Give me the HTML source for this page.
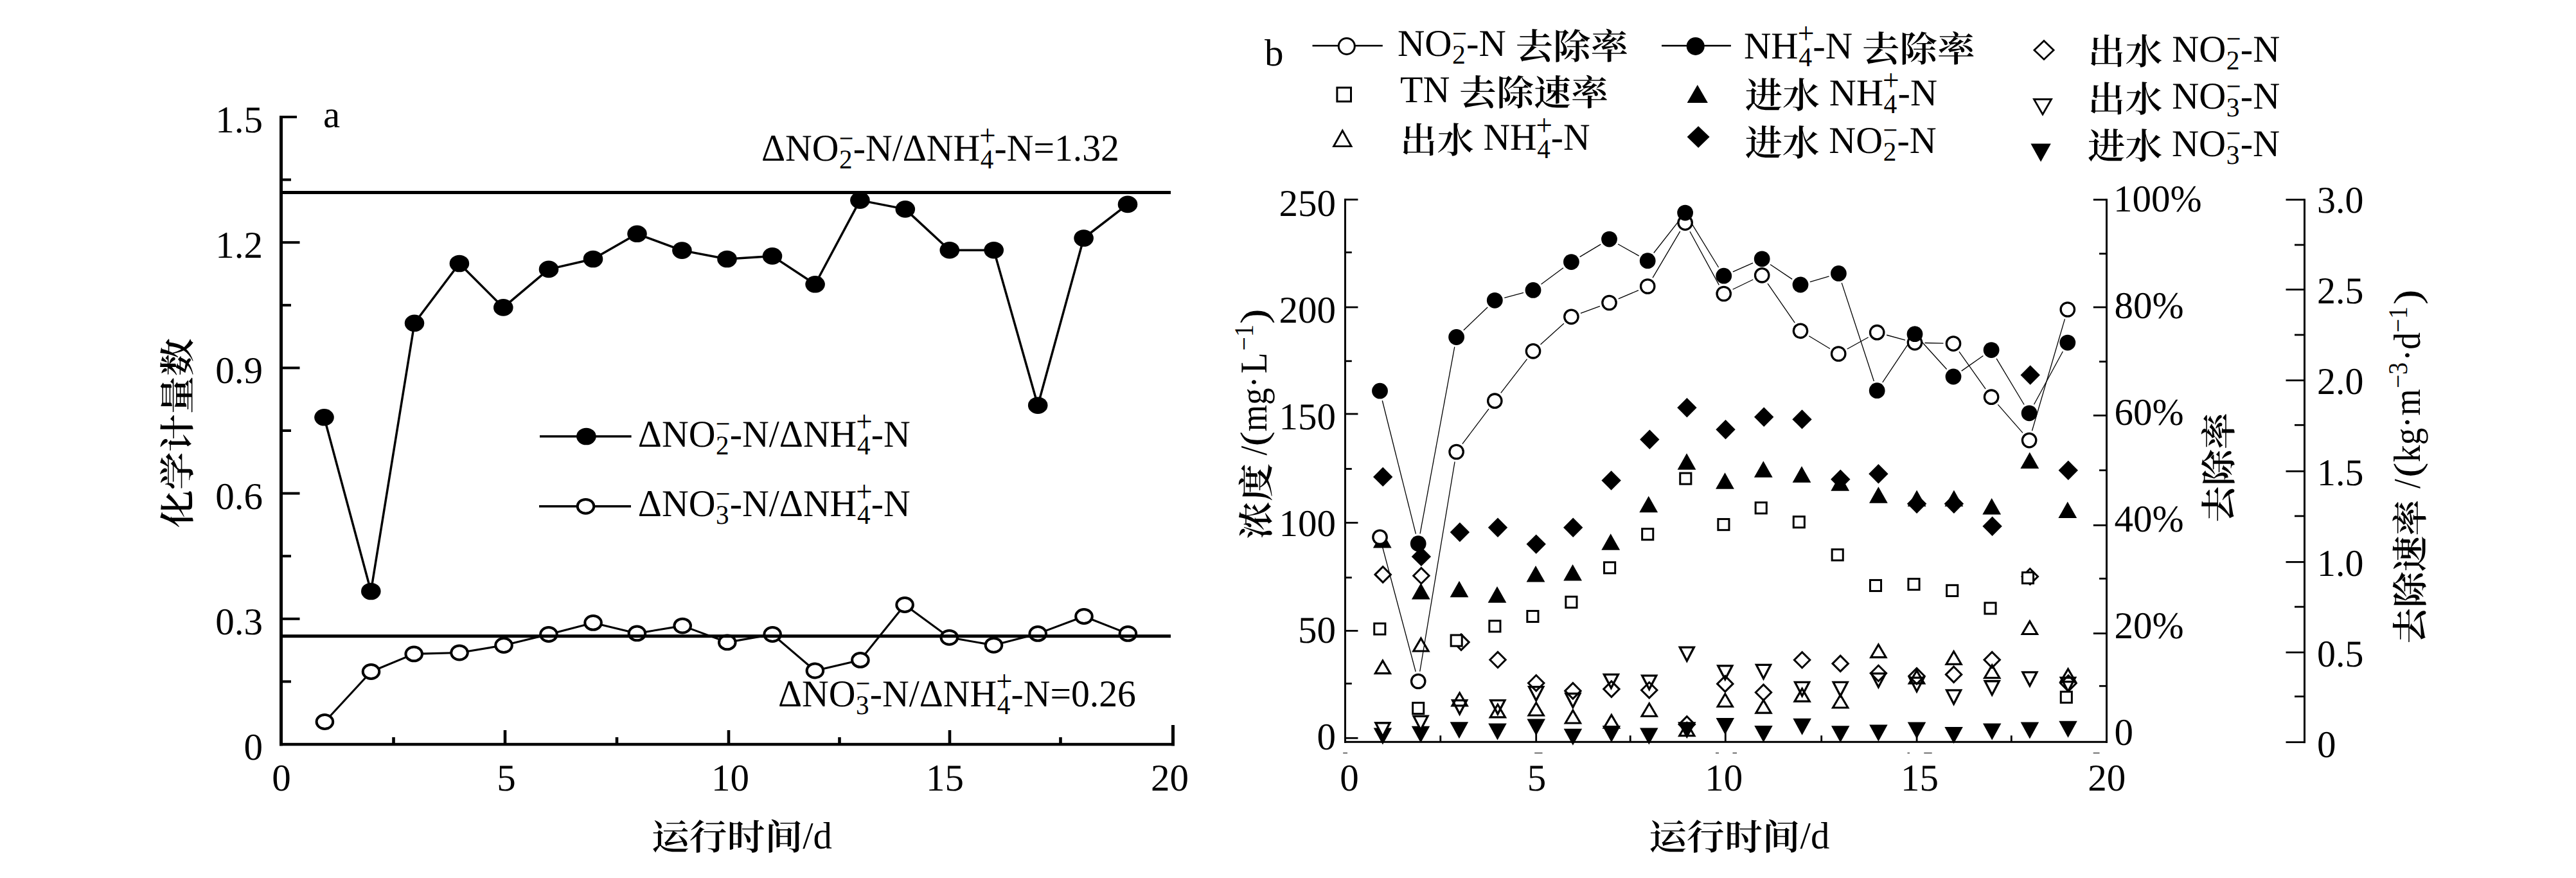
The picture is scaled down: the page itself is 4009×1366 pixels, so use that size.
<!DOCTYPE html>
<html lang="zh">
<head>
<meta charset="utf-8">
<title>化学计量数与去除率</title>
<style>
html,body{margin:0;padding:0;background:#fff}
body{width:4009px;height:1366px;overflow:hidden}
svg{display:block}
#labels{font-family:"Liberation Serif","Noto Serif CJK SC",serif;font-size:59px;fill:#000;font-kerning:none;white-space:pre;text-rendering:geometricPrecision}
text.c{font-family:"Noto Serif CJK SC","Liberation Serif",serif;font-weight:600}
</style>
</head>
<body>
<svg width="4009" height="1366" viewBox="0 0 4009 1366" shape-rendering="geometricPrecision">
<rect x="0" y="0" width="4009" height="1366" fill="#fff"/>
<g id="panel-a">
<polyline points="504.5,649.3 577.3,920 645,502.8 714.9,410 783.3,478.4 854,418.9 923,403 991.5,363.8 1061.4,389.6 1131.5,403 1202,398.4 1268.6,442.3 1338.4,311.6 1408.8,325.4 1477.8,389.2 1546.7,389.2 1615.2,630.7 1686.6,370.5 1755,317.9" fill="none" stroke="#000" stroke-width="3.5" stroke-linejoin="round"/>
<ellipse cx="504.5" cy="649.3" rx="15.3" ry="13.3" fill="#000"/>
<ellipse cx="577.3" cy="920" rx="15.3" ry="13.3" fill="#000"/>
<ellipse cx="645" cy="502.8" rx="15.3" ry="13.3" fill="#000"/>
<ellipse cx="714.9" cy="410" rx="15.3" ry="13.3" fill="#000"/>
<ellipse cx="783.3" cy="478.4" rx="15.3" ry="13.3" fill="#000"/>
<ellipse cx="854" cy="418.9" rx="15.3" ry="13.3" fill="#000"/>
<ellipse cx="923" cy="403" rx="15.3" ry="13.3" fill="#000"/>
<ellipse cx="991.5" cy="363.8" rx="15.3" ry="13.3" fill="#000"/>
<ellipse cx="1061.4" cy="389.6" rx="15.3" ry="13.3" fill="#000"/>
<ellipse cx="1131.5" cy="403" rx="15.3" ry="13.3" fill="#000"/>
<ellipse cx="1202" cy="398.4" rx="15.3" ry="13.3" fill="#000"/>
<ellipse cx="1268.6" cy="442.3" rx="15.3" ry="13.3" fill="#000"/>
<ellipse cx="1338.4" cy="311.6" rx="15.3" ry="13.3" fill="#000"/>
<ellipse cx="1408.8" cy="325.4" rx="15.3" ry="13.3" fill="#000"/>
<ellipse cx="1477.8" cy="389.2" rx="15.3" ry="13.3" fill="#000"/>
<ellipse cx="1546.7" cy="389.2" rx="15.3" ry="13.3" fill="#000"/>
<ellipse cx="1615.2" cy="630.7" rx="15.3" ry="13.3" fill="#000"/>
<ellipse cx="1686.6" cy="370.5" rx="15.3" ry="13.3" fill="#000"/>
<ellipse cx="1755" cy="317.9" rx="15.3" ry="13.3" fill="#000"/>
<polyline points="505.4,1123 577.5,1045 644.2,1017.4 715,1015.5 784,1004 853.9,987 923.1,968.9 991.4,985.4 1062.2,973.6 1131.8,999.4 1202.2,987 1268.4,1043.5 1338.9,1026.9 1408.1,941 1477.3,991.8 1546.5,1003.8 1615.2,985.9 1687,959 1755.4,985.9" fill="none" stroke="#000" stroke-width="3.1" stroke-linejoin="round"/>
<ellipse cx="505.4" cy="1123" rx="12.8" ry="10.9" fill="#fff" stroke="#000" stroke-width="4"/>
<ellipse cx="577.5" cy="1045" rx="12.8" ry="10.9" fill="#fff" stroke="#000" stroke-width="4"/>
<ellipse cx="644.2" cy="1017.4" rx="12.8" ry="10.9" fill="#fff" stroke="#000" stroke-width="4"/>
<ellipse cx="715" cy="1015.5" rx="12.8" ry="10.9" fill="#fff" stroke="#000" stroke-width="4"/>
<ellipse cx="784" cy="1004" rx="12.8" ry="10.9" fill="#fff" stroke="#000" stroke-width="4"/>
<ellipse cx="853.9" cy="987" rx="12.8" ry="10.9" fill="#fff" stroke="#000" stroke-width="4"/>
<ellipse cx="923.1" cy="968.9" rx="12.8" ry="10.9" fill="#fff" stroke="#000" stroke-width="4"/>
<ellipse cx="991.4" cy="985.4" rx="12.8" ry="10.9" fill="#fff" stroke="#000" stroke-width="4"/>
<ellipse cx="1062.2" cy="973.6" rx="12.8" ry="10.9" fill="#fff" stroke="#000" stroke-width="4"/>
<ellipse cx="1131.8" cy="999.4" rx="12.8" ry="10.9" fill="#fff" stroke="#000" stroke-width="4"/>
<ellipse cx="1202.2" cy="987" rx="12.8" ry="10.9" fill="#fff" stroke="#000" stroke-width="4"/>
<ellipse cx="1268.4" cy="1043.5" rx="12.8" ry="10.9" fill="#fff" stroke="#000" stroke-width="4"/>
<ellipse cx="1338.9" cy="1026.9" rx="12.8" ry="10.9" fill="#fff" stroke="#000" stroke-width="4"/>
<ellipse cx="1408.1" cy="941" rx="12.8" ry="10.9" fill="#fff" stroke="#000" stroke-width="4"/>
<ellipse cx="1477.3" cy="991.8" rx="12.8" ry="10.9" fill="#fff" stroke="#000" stroke-width="4"/>
<ellipse cx="1546.5" cy="1003.8" rx="12.8" ry="10.9" fill="#fff" stroke="#000" stroke-width="4"/>
<ellipse cx="1615.2" cy="985.9" rx="12.8" ry="10.9" fill="#fff" stroke="#000" stroke-width="4"/>
<ellipse cx="1687" cy="959" rx="12.8" ry="10.9" fill="#fff" stroke="#000" stroke-width="4"/>
<ellipse cx="1755.4" cy="985.9" rx="12.8" ry="10.9" fill="#fff" stroke="#000" stroke-width="4"/>
<rect x="437" y="297" width="1385" height="5" fill="#000"/>
<rect x="437" y="987.2" width="1385" height="5" fill="#000"/>
<rect x="435" y="180" width="5" height="980.3" fill="#000"/>
<rect x="435" y="1155.8" width="1393" height="4.5" fill="#000"/>
<rect x="1823" y="1128" width="5" height="32.3" fill="#000"/>
<rect x="439" y="180" width="23" height="4" fill="#000"/>
<rect x="439" y="375.2" width="27.5" height="4" fill="#000"/>
<rect x="439" y="570.4" width="27.5" height="4" fill="#000"/>
<rect x="439" y="765.6" width="27.5" height="4" fill="#000"/>
<rect x="439" y="960.8" width="27.5" height="4" fill="#000"/>
<rect x="439" y="277.6" width="14" height="4" fill="#000"/>
<rect x="439" y="472.8" width="14" height="4" fill="#000"/>
<rect x="439" y="668" width="14" height="4" fill="#000"/>
<rect x="439" y="863.2" width="14" height="4" fill="#000"/>
<rect x="439" y="1058.4" width="14" height="4" fill="#000"/>
<rect x="783.7" y="1136" width="4.6" height="21" fill="#000"/>
<rect x="1131.7" y="1136" width="4.6" height="21" fill="#000"/>
<rect x="1475.7" y="1136" width="4.6" height="21" fill="#000"/>
<rect x="610.2" y="1147" width="4.6" height="10" fill="#000"/>
<rect x="957.7" y="1147" width="4.6" height="10" fill="#000"/>
<rect x="1304.2" y="1147" width="4.6" height="10" fill="#000"/>
<rect x="1648.2" y="1147" width="4.6" height="10" fill="#000"/>
<rect x="840" y="677.2" width="142.6" height="3.5" fill="#000"/>
<ellipse cx="912.4" cy="679" rx="15.3" ry="13.3" fill="#000"/>
<rect x="839" y="786" width="143" height="3.5" fill="#000"/>
<ellipse cx="911.5" cy="787.8" rx="12.8" ry="10.9" fill="#fff" stroke="#000" stroke-width="4"/>
</g>
<g id="panel-b">
<polygon points="2137.65,1132.6 2166.15,1132.6 2151.9,1158.6" fill="#000"/>
<polygon points="2196.75,1129.8 2225.25,1129.8 2211,1155.8" fill="#000"/>
<polygon points="2256.65,1123.3 2285.15,1123.3 2270.9,1149.3" fill="#000"/>
<polygon points="2316.25,1125.6 2344.75,1125.6 2330.5,1151.6" fill="#000"/>
<polygon points="2376.45,1118.6 2404.95,1118.6 2390.7,1144.6" fill="#000"/>
<polygon points="2433.65,1133.8 2462.15,1133.8 2447.9,1159.8" fill="#000"/>
<polygon points="2493.65,1129.1 2522.15,1129.1 2507.9,1155.1" fill="#000"/>
<polygon points="2552.05,1132.6 2580.55,1132.6 2566.3,1158.6" fill="#000"/>
<polygon points="2611.05,1123.3 2639.55,1123.3 2625.3,1149.3" fill="#000"/>
<polygon points="2670.55,1117.1 2699.05,1117.1 2684.8,1143.1" fill="#000"/>
<polygon points="2730.25,1129 2758.75,1129 2744.5,1155" fill="#000"/>
<polygon points="2790.35,1117.8 2818.85,1117.8 2804.6,1143.8" fill="#000"/>
<polygon points="2849.95,1129.3 2878.45,1129.3 2864.2,1155.3" fill="#000"/>
<polygon points="2909.15,1127.5 2937.65,1127.5 2923.4,1153.5" fill="#000"/>
<polygon points="2968.75,1123.4 2997.25,1123.4 2983,1149.4" fill="#000"/>
<polygon points="3026.35,1131.1 3054.85,1131.1 3040.6,1157.1" fill="#000"/>
<polygon points="3085.95,1125.6 3114.45,1125.6 3100.2,1151.6" fill="#000"/>
<polygon points="3144.65,1123.6 3173.15,1123.6 3158.9,1149.6" fill="#000"/>
<polygon points="3204.25,1121.8 3232.75,1121.8 3218.5,1147.8" fill="#000"/>
<polygon points="2140.85,1124.74 2162.95,1124.74 2151.9,1145.94" fill="#fff" stroke="#000" stroke-width="3.3" stroke-linejoin="miter"/>
<polygon points="2199.95,1114.24 2222.05,1114.24 2211,1135.44" fill="#fff" stroke="#000" stroke-width="3.3" stroke-linejoin="miter"/>
<polygon points="2260.55,1089.64 2282.65,1089.64 2271.6,1110.84" fill="#fff" stroke="#000" stroke-width="3.3" stroke-linejoin="miter"/>
<polygon points="2319.85,1089.64 2341.95,1089.64 2330.9,1110.84" fill="#fff" stroke="#000" stroke-width="3.3" stroke-linejoin="miter"/>
<polygon points="2379.65,1068.64 2401.75,1068.64 2390.7,1089.84" fill="#fff" stroke="#000" stroke-width="3.3" stroke-linejoin="miter"/>
<polygon points="2436.85,1079.14 2458.95,1079.14 2447.9,1100.34" fill="#fff" stroke="#000" stroke-width="3.3" stroke-linejoin="miter"/>
<polygon points="2496.35,1049.34 2518.45,1049.34 2507.4,1070.54" fill="#fff" stroke="#000" stroke-width="3.3" stroke-linejoin="miter"/>
<polygon points="2555.65,1051.14 2577.75,1051.14 2566.7,1072.34" fill="#fff" stroke="#000" stroke-width="3.3" stroke-linejoin="miter"/>
<polygon points="2614.25,1007.04 2636.35,1007.04 2625.3,1028.24" fill="#fff" stroke="#000" stroke-width="3.3" stroke-linejoin="miter"/>
<polygon points="2673.75,1035.84 2695.85,1035.84 2684.8,1057.04" fill="#fff" stroke="#000" stroke-width="3.3" stroke-linejoin="miter"/>
<polygon points="2733.45,1034.44 2755.55,1034.44 2744.5,1055.64" fill="#fff" stroke="#000" stroke-width="3.3" stroke-linejoin="miter"/>
<polygon points="2793.55,1061.44 2815.65,1061.44 2804.6,1082.64" fill="#fff" stroke="#000" stroke-width="3.3" stroke-linejoin="miter"/>
<polygon points="2853.15,1061.44 2875.25,1061.44 2864.2,1082.64" fill="#fff" stroke="#000" stroke-width="3.3" stroke-linejoin="miter"/>
<polygon points="2912.35,1047.84 2934.45,1047.84 2923.4,1069.04" fill="#fff" stroke="#000" stroke-width="3.3" stroke-linejoin="miter"/>
<polygon points="2971.95,1054.44 2994.05,1054.44 2983,1075.64" fill="#fff" stroke="#000" stroke-width="3.3" stroke-linejoin="miter"/>
<polygon points="3029.55,1073.94 3051.65,1073.94 3040.6,1095.14" fill="#fff" stroke="#000" stroke-width="3.3" stroke-linejoin="miter"/>
<polygon points="3089.15,1059.74 3111.25,1059.74 3100.2,1080.94" fill="#fff" stroke="#000" stroke-width="3.3" stroke-linejoin="miter"/>
<polygon points="3147.85,1045.84 3169.95,1045.84 3158.9,1067.04" fill="#fff" stroke="#000" stroke-width="3.3" stroke-linejoin="miter"/>
<polygon points="3207.45,1054.44 3229.55,1054.44 3218.5,1075.64" fill="#fff" stroke="#000" stroke-width="3.3" stroke-linejoin="miter"/>
<polygon points="2140,893.9 2152.2,881.7 2164.4,893.9 2152.2,906.1" fill="none" stroke="#000" stroke-width="3" stroke-linejoin="miter"/>
<polygon points="2199.7,895.8 2211.9,883.6 2224.1,895.8 2211.9,908" fill="none" stroke="#000" stroke-width="3" stroke-linejoin="miter"/>
<polygon points="2261.8,999.1 2274,986.9 2286.2,999.1 2274,1011.3" fill="none" stroke="#000" stroke-width="3" stroke-linejoin="miter"/>
<polygon points="2318.8,1026.5 2331,1014.3 2343.2,1026.5 2331,1038.7" fill="none" stroke="#000" stroke-width="3" stroke-linejoin="miter"/>
<polygon points="2378.5,1062.7 2390.7,1050.5 2402.9,1062.7 2390.7,1074.9" fill="none" stroke="#000" stroke-width="3" stroke-linejoin="miter"/>
<polygon points="2435.7,1074.9 2447.9,1062.7 2460.1,1074.9 2447.9,1087.1" fill="none" stroke="#000" stroke-width="3" stroke-linejoin="miter"/>
<polygon points="2495.7,1072.1 2507.9,1059.9 2520.1,1072.1 2507.9,1084.3" fill="none" stroke="#000" stroke-width="3" stroke-linejoin="miter"/>
<polygon points="2554.5,1073.7 2566.7,1061.5 2578.9,1073.7 2566.7,1085.9" fill="none" stroke="#000" stroke-width="3" stroke-linejoin="miter"/>
<polygon points="2613.1,1126.9 2625.3,1114.7 2637.5,1126.9 2625.3,1139.1" fill="none" stroke="#000" stroke-width="3" stroke-linejoin="miter"/>
<polygon points="2672.6,1063.9 2684.8,1051.7 2697,1063.9 2684.8,1076.1" fill="none" stroke="#000" stroke-width="3" stroke-linejoin="miter"/>
<polygon points="2732.3,1077.3 2744.5,1065.1 2756.7,1077.3 2744.5,1089.5" fill="none" stroke="#000" stroke-width="3" stroke-linejoin="miter"/>
<polygon points="2792.4,1026.8 2804.6,1014.6 2816.8,1026.8 2804.6,1039" fill="none" stroke="#000" stroke-width="3" stroke-linejoin="miter"/>
<polygon points="2852,1032.4 2864.2,1020.2 2876.4,1032.4 2864.2,1044.6" fill="none" stroke="#000" stroke-width="3" stroke-linejoin="miter"/>
<polygon points="2911.2,1047.5 2923.4,1035.3 2935.6,1047.5 2923.4,1059.7" fill="none" stroke="#000" stroke-width="3" stroke-linejoin="miter"/>
<polygon points="2970.8,1051.9 2983,1039.7 2995.2,1051.9 2983,1064.1" fill="none" stroke="#000" stroke-width="3" stroke-linejoin="miter"/>
<polygon points="3028.4,1049.4 3040.6,1037.2 3052.8,1049.4 3040.6,1061.6" fill="none" stroke="#000" stroke-width="3" stroke-linejoin="miter"/>
<polygon points="3088,1026.6 3100.2,1014.4 3112.4,1026.6 3100.2,1038.8" fill="none" stroke="#000" stroke-width="3" stroke-linejoin="miter"/>
<polygon points="3147.1,897 3159.3,884.8 3171.5,897 3159.3,909.2" fill="none" stroke="#000" stroke-width="3" stroke-linejoin="miter"/>
<polygon points="3206.8,1063.1 3219,1050.9 3231.2,1063.1 3219,1075.3" fill="none" stroke="#000" stroke-width="3" stroke-linejoin="miter"/>
<polygon points="2140.25,1047.65 2163.55,1047.65 2151.9,1027.85" fill="none" stroke="#000" stroke-width="3.1" stroke-linejoin="miter"/>
<polygon points="2199.75,1012.95 2223.05,1012.95 2211.4,993.15" fill="none" stroke="#000" stroke-width="3.1" stroke-linejoin="miter"/>
<polygon points="2259.95,1097.85 2283.25,1097.85 2271.6,1078.05" fill="none" stroke="#000" stroke-width="3.1" stroke-linejoin="miter"/>
<polygon points="2319.25,1115.85 2342.55,1115.85 2330.9,1096.05" fill="none" stroke="#000" stroke-width="3.1" stroke-linejoin="miter"/>
<polygon points="2379.05,1113.05 2402.35,1113.05 2390.7,1093.25" fill="none" stroke="#000" stroke-width="3.1" stroke-linejoin="miter"/>
<polygon points="2436.25,1124.95 2459.55,1124.95 2447.9,1105.15" fill="none" stroke="#000" stroke-width="3.1" stroke-linejoin="miter"/>
<polygon points="2496.25,1132.15 2519.55,1132.15 2507.9,1112.35" fill="none" stroke="#000" stroke-width="3.1" stroke-linejoin="miter"/>
<polygon points="2555.05,1114.25 2578.35,1114.25 2566.7,1094.45" fill="none" stroke="#000" stroke-width="3.1" stroke-linejoin="miter"/>
<polygon points="2613.65,1144.65 2636.95,1144.65 2625.3,1124.85" fill="none" stroke="#000" stroke-width="3.1" stroke-linejoin="miter"/>
<polygon points="2673.15,1099.25 2696.45,1099.25 2684.8,1079.45" fill="none" stroke="#000" stroke-width="3.1" stroke-linejoin="miter"/>
<polygon points="2732.85,1109.15 2756.15,1109.15 2744.5,1089.35" fill="none" stroke="#000" stroke-width="3.1" stroke-linejoin="miter"/>
<polygon points="2792.95,1091.15 2816.25,1091.15 2804.6,1071.35" fill="none" stroke="#000" stroke-width="3.1" stroke-linejoin="miter"/>
<polygon points="2852.55,1101.05 2875.85,1101.05 2864.2,1081.25" fill="none" stroke="#000" stroke-width="3.1" stroke-linejoin="miter"/>
<polygon points="2911.75,1022.65 2935.05,1022.65 2923.4,1002.85" fill="none" stroke="#000" stroke-width="3.1" stroke-linejoin="miter"/>
<polygon points="2971.35,1063.15 2994.65,1063.15 2983,1043.35" fill="none" stroke="#000" stroke-width="3.1" stroke-linejoin="miter"/>
<polygon points="3028.95,1033.35 3052.25,1033.35 3040.6,1013.55" fill="none" stroke="#000" stroke-width="3.1" stroke-linejoin="miter"/>
<polygon points="3088.55,1054.65 3111.85,1054.65 3100.2,1034.85" fill="none" stroke="#000" stroke-width="3.1" stroke-linejoin="miter"/>
<polygon points="3147.25,986.45 3170.55,986.45 3158.9,966.65" fill="none" stroke="#000" stroke-width="3.1" stroke-linejoin="miter"/>
<polygon points="3206.85,1060.65 3230.15,1060.65 3218.5,1040.85" fill="none" stroke="#000" stroke-width="3.1" stroke-linejoin="miter"/>
<polygon points="2137,741.9 2152.2,726.7 2167.4,741.9 2152.2,757.1" fill="#000"/>
<polygon points="2196.7,865.9 2211.9,850.7 2227.1,865.9 2211.9,881.1" fill="#000"/>
<polygon points="2256.7,828 2271.9,812.8 2287.1,828 2271.9,843.2" fill="#000"/>
<polygon points="2315.8,820.7 2331,805.5 2346.2,820.7 2331,835.9" fill="#000"/>
<polygon points="2375.5,846.6 2390.7,831.4 2405.9,846.6 2390.7,861.8" fill="#000"/>
<polygon points="2433,820.7 2448.2,805.5 2463.4,820.7 2448.2,835.9" fill="#000"/>
<polygon points="2492.4,747.5 2507.6,732.3 2522.8,747.5 2507.6,762.7" fill="#000"/>
<polygon points="2552.1,683.8 2567.3,668.6 2582.5,683.8 2567.3,699" fill="#000"/>
<polygon points="2610.2,634.2 2625.4,619 2640.6,634.2 2625.4,649.4" fill="#000"/>
<polygon points="2670.3,668.3 2685.5,653.1 2700.7,668.3 2685.5,683.5" fill="#000"/>
<polygon points="2730,648.7 2745.2,633.5 2760.4,648.7 2745.2,663.9" fill="#000"/>
<polygon points="2789.3,652.4 2804.5,637.2 2819.7,652.4 2804.5,667.6" fill="#000"/>
<polygon points="2849.1,745.8 2864.3,730.6 2879.5,745.8 2864.3,761" fill="#000"/>
<polygon points="2908.2,737.3 2923.4,722.1 2938.6,737.3 2923.4,752.5" fill="#000"/>
<polygon points="2967.9,783.7 2983.1,768.5 2998.3,783.7 2983.1,798.9" fill="#000"/>
<polygon points="3025.7,783.7 3040.9,768.5 3056.1,783.7 3040.9,798.9" fill="#000"/>
<polygon points="3085.4,818.8 3100.6,803.6 3115.8,818.8 3100.6,834" fill="#000"/>
<polygon points="3144.5,583.5 3159.7,568.3 3174.9,583.5 3159.7,598.7" fill="#000"/>
<polygon points="3203.6,731.7 3218.8,716.5 3234,731.7 3218.8,746.9" fill="#000"/>
<polygon points="2136.9,852.45 2165.7,852.45 2151.3,826.95" fill="#000"/>
<polygon points="2196.9,932.45 2225.7,932.45 2211.3,906.95" fill="#000"/>
<polygon points="2256.6,929.35 2285.4,929.35 2271,903.85" fill="#000"/>
<polygon points="2315.6,937.75 2344.4,937.75 2330,912.25" fill="#000"/>
<polygon points="2375.6,905.45 2404.4,905.45 2390,879.95" fill="#000"/>
<polygon points="2433.2,903.55 2462,903.55 2447.6,878.05" fill="#000"/>
<polygon points="2492.3,855.65 2521.1,855.65 2506.7,830.15" fill="#000"/>
<polygon points="2551.3,797.25 2580.1,797.25 2565.7,771.75" fill="#000"/>
<polygon points="2610.6,730.65 2639.4,730.65 2625,705.15" fill="#000"/>
<polygon points="2670.1,760.75 2698.9,760.75 2684.5,735.25" fill="#000"/>
<polygon points="2729.9,742.85 2758.7,742.85 2744.3,717.35" fill="#000"/>
<polygon points="2789.6,750.75 2818.4,750.75 2804,725.25" fill="#000"/>
<polygon points="2849.3,763.75 2878.1,763.75 2863.7,738.25" fill="#000"/>
<polygon points="2909,782.75 2937.8,782.75 2923.4,757.25" fill="#000"/>
<polygon points="2968.7,788.05 2997.5,788.05 2983.1,762.55" fill="#000"/>
<polygon points="3026.5,788.05 3055.3,788.05 3040.9,762.55" fill="#000"/>
<polygon points="3085.3,800.45 3114.1,800.45 3099.7,774.95" fill="#000"/>
<polygon points="3144.4,728.95 3173.2,728.95 3158.8,703.45" fill="#000"/>
<polygon points="3203.4,806.05 3232.2,806.05 3217.8,780.55" fill="#000"/>
<rect x="2138.75" y="969.95" width="17.1" height="17.1" fill="#fff" stroke="#000" stroke-width="3"/>
<rect x="2198.65" y="1093.35" width="17.1" height="17.1" fill="#fff" stroke="#000" stroke-width="3"/>
<rect x="2258.15" y="988.05" width="17.1" height="17.1" fill="#fff" stroke="#000" stroke-width="3"/>
<rect x="2317.85" y="965.75" width="17.1" height="17.1" fill="#fff" stroke="#000" stroke-width="3"/>
<rect x="2376.85" y="950.45" width="17.1" height="17.1" fill="#fff" stroke="#000" stroke-width="3"/>
<rect x="2436.85" y="928.25" width="17.1" height="17.1" fill="#fff" stroke="#000" stroke-width="3"/>
<rect x="2496.55" y="874.75" width="17.1" height="17.1" fill="#fff" stroke="#000" stroke-width="3"/>
<rect x="2555.65" y="822.65" width="17.1" height="17.1" fill="#fff" stroke="#000" stroke-width="3"/>
<rect x="2614.75" y="736.05" width="17.1" height="17.1" fill="#fff" stroke="#000" stroke-width="3"/>
<rect x="2673.85" y="807.55" width="17.1" height="17.1" fill="#fff" stroke="#000" stroke-width="3"/>
<rect x="2732.15" y="781.75" width="17.1" height="17.1" fill="#fff" stroke="#000" stroke-width="3"/>
<rect x="2791.25" y="803.65" width="17.1" height="17.1" fill="#fff" stroke="#000" stroke-width="3"/>
<rect x="2851.15" y="854.75" width="17.1" height="17.1" fill="#fff" stroke="#000" stroke-width="3"/>
<rect x="2910.45" y="902.45" width="17.1" height="17.1" fill="#fff" stroke="#000" stroke-width="3"/>
<rect x="2969.95" y="900.45" width="17.1" height="17.1" fill="#fff" stroke="#000" stroke-width="3"/>
<rect x="3029.65" y="910.35" width="17.1" height="17.1" fill="#fff" stroke="#000" stroke-width="3"/>
<rect x="3088.95" y="937.85" width="17.1" height="17.1" fill="#fff" stroke="#000" stroke-width="3"/>
<rect x="3147.45" y="890.55" width="17.1" height="17.1" fill="#fff" stroke="#000" stroke-width="3"/>
<rect x="3207.25" y="1076.15" width="17.1" height="17.1" fill="#fff" stroke="#000" stroke-width="3"/>
<line x1="2151.49" y1="850.78" x2="2203.21" y2="1045.02" stroke="#000" stroke-width="1.3"/>
<line x1="2209.74" y1="1044.71" x2="2264.06" y2="718.29" stroke="#000" stroke-width="1.3"/>
<line x1="2275.92" y1="690.62" x2="2316.98" y2="636.08" stroke="#000" stroke-width="1.3"/>
<line x1="2335.77" y1="611.43" x2="2376.53" y2="558.57" stroke="#000" stroke-width="1.3"/>
<line x1="2397.52" y1="535.93" x2="2433.88" y2="503.17" stroke="#000" stroke-width="1.3"/>
<line x1="2459.94" y1="487.44" x2="2489.96" y2="476.36" stroke="#000" stroke-width="1.3"/>
<line x1="2518.75" y1="464.91" x2="2549.95" y2="451.59" stroke="#000" stroke-width="1.3"/>
<line x1="2572.08" y1="432.15" x2="2614.72" y2="359.95" stroke="#000" stroke-width="1.3"/>
<line x1="2630.01" y1="360.21" x2="2675.29" y2="443.39" stroke="#000" stroke-width="1.3"/>
<line x1="2696.66" y1="450.27" x2="2728.24" y2="435.03" stroke="#000" stroke-width="1.3"/>
<line x1="2751.01" y1="441.05" x2="2793.19" y2="502.05" stroke="#000" stroke-width="1.3"/>
<line x1="2815.27" y1="522.8" x2="2847.93" y2="542.5" stroke="#000" stroke-width="1.3"/>
<line x1="2874.75" y1="542.98" x2="2907.65" y2="524.72" stroke="#000" stroke-width="1.3"/>
<line x1="2936.16" y1="521.25" x2="2965.04" y2="529.05" stroke="#000" stroke-width="1.3"/>
<line x1="2995.5" y1="533.49" x2="3024.5" y2="534.21" stroke="#000" stroke-width="1.3"/>
<line x1="3048.98" y1="547.23" x2="3090.12" y2="605.07" stroke="#000" stroke-width="1.3"/>
<line x1="3109.31" y1="629.36" x2="3147.89" y2="673.44" stroke="#000" stroke-width="1.3"/>
<line x1="3162.46" y1="670.23" x2="3213.44" y2="496.37" stroke="#000" stroke-width="1.3"/>
<line x1="2151.28" y1="623.23" x2="2203.42" y2="830.67" stroke="#000" stroke-width="1.3"/>
<line x1="2210.02" y1="830.46" x2="2263.78" y2="539.74" stroke="#000" stroke-width="1.3"/>
<line x1="2277.79" y1="513.78" x2="2315.11" y2="478.02" stroke="#000" stroke-width="1.3"/>
<line x1="2341.28" y1="463.31" x2="2371.02" y2="455.39" stroke="#000" stroke-width="1.3"/>
<line x1="2398.48" y1="442.2" x2="2432.92" y2="416.8" stroke="#000" stroke-width="1.3"/>
<line x1="2458.69" y1="399.62" x2="2491.21" y2="380.08" stroke="#000" stroke-width="1.3"/>
<line x1="2518.01" y1="379.7" x2="2550.69" y2="398.1" stroke="#000" stroke-width="1.3"/>
<line x1="2573.75" y1="393.5" x2="2613.05" y2="343.3" stroke="#000" stroke-width="1.3"/>
<line x1="2630.7" y1="344.32" x2="2674.6" y2="415.98" stroke="#000" stroke-width="1.3"/>
<line x1="2696.87" y1="422.91" x2="2728.03" y2="409.09" stroke="#000" stroke-width="1.3"/>
<line x1="2755.06" y1="411.45" x2="2789.14" y2="434.35" stroke="#000" stroke-width="1.3"/>
<line x1="2816.86" y1="438.6" x2="2846.54" y2="429.8" stroke="#000" stroke-width="1.3"/>
<line x1="2866.23" y1="440.13" x2="2916.37" y2="592.97" stroke="#000" stroke-width="1.3"/>
<line x1="2929.81" y1="594.81" x2="2971.39" y2="532.59" stroke="#000" stroke-width="1.3"/>
<line x1="2990.4" y1="531.19" x2="3029.6" y2="574.51" stroke="#000" stroke-width="1.3"/>
<line x1="3052.7" y1="577.11" x2="3086.4" y2="553.49" stroke="#000" stroke-width="1.3"/>
<line x1="3107.08" y1="557.89" x2="3150.12" y2="629.51" stroke="#000" stroke-width="1.3"/>
<line x1="3165.51" y1="629.19" x2="3210.39" y2="546.71" stroke="#000" stroke-width="1.3"/>
<ellipse cx="2147.5" cy="835.8" rx="10.7" ry="10.7" fill="#fff" stroke="#000" stroke-width="3.3"/>
<ellipse cx="2207.2" cy="1060" rx="10.7" ry="10.7" fill="#fff" stroke="#000" stroke-width="3.3"/>
<ellipse cx="2266.6" cy="703" rx="10.7" ry="10.7" fill="#fff" stroke="#000" stroke-width="3.3"/>
<ellipse cx="2326.3" cy="623.7" rx="10.7" ry="10.7" fill="#fff" stroke="#000" stroke-width="3.3"/>
<ellipse cx="2386" cy="546.3" rx="10.7" ry="10.7" fill="#fff" stroke="#000" stroke-width="3.3"/>
<ellipse cx="2445.4" cy="492.8" rx="10.7" ry="10.7" fill="#fff" stroke="#000" stroke-width="3.3"/>
<ellipse cx="2504.5" cy="471" rx="10.7" ry="10.7" fill="#fff" stroke="#000" stroke-width="3.3"/>
<ellipse cx="2564.2" cy="445.5" rx="10.7" ry="10.7" fill="#fff" stroke="#000" stroke-width="3.3"/>
<ellipse cx="2622.6" cy="346.6" rx="10.7" ry="10.7" fill="#fff" stroke="#000" stroke-width="3.3"/>
<ellipse cx="2682.7" cy="457" rx="10.7" ry="10.7" fill="#fff" stroke="#000" stroke-width="3.3"/>
<ellipse cx="2742.2" cy="428.3" rx="10.7" ry="10.7" fill="#fff" stroke="#000" stroke-width="3.3"/>
<ellipse cx="2802" cy="514.8" rx="10.7" ry="10.7" fill="#fff" stroke="#000" stroke-width="3.3"/>
<ellipse cx="2861.2" cy="550.5" rx="10.7" ry="10.7" fill="#fff" stroke="#000" stroke-width="3.3"/>
<ellipse cx="2921.2" cy="517.2" rx="10.7" ry="10.7" fill="#fff" stroke="#000" stroke-width="3.3"/>
<ellipse cx="2980" cy="533.1" rx="10.7" ry="10.7" fill="#fff" stroke="#000" stroke-width="3.3"/>
<ellipse cx="3040" cy="534.6" rx="10.7" ry="10.7" fill="#fff" stroke="#000" stroke-width="3.3"/>
<ellipse cx="3099.1" cy="617.7" rx="10.7" ry="10.7" fill="#fff" stroke="#000" stroke-width="3.3"/>
<ellipse cx="3158.1" cy="685.1" rx="10.7" ry="10.7" fill="#fff" stroke="#000" stroke-width="3.3"/>
<ellipse cx="3217.8" cy="481.5" rx="10.7" ry="10.7" fill="#fff" stroke="#000" stroke-width="3.3"/>
<ellipse cx="2147.5" cy="608.2" rx="12.4" ry="12.4" fill="#000"/>
<ellipse cx="2207.2" cy="845.7" rx="12.4" ry="12.4" fill="#000"/>
<ellipse cx="2266.6" cy="524.5" rx="12.4" ry="12.4" fill="#000"/>
<ellipse cx="2326.3" cy="467.3" rx="12.4" ry="12.4" fill="#000"/>
<ellipse cx="2386" cy="451.4" rx="12.4" ry="12.4" fill="#000"/>
<ellipse cx="2445.4" cy="407.6" rx="12.4" ry="12.4" fill="#000"/>
<ellipse cx="2504.5" cy="372.1" rx="12.4" ry="12.4" fill="#000"/>
<ellipse cx="2564.2" cy="405.7" rx="12.4" ry="12.4" fill="#000"/>
<ellipse cx="2622.6" cy="331.1" rx="12.4" ry="12.4" fill="#000"/>
<ellipse cx="2682.7" cy="429.2" rx="12.4" ry="12.4" fill="#000"/>
<ellipse cx="2742.2" cy="402.8" rx="12.4" ry="12.4" fill="#000"/>
<ellipse cx="2802" cy="443" rx="12.4" ry="12.4" fill="#000"/>
<ellipse cx="2861.4" cy="425.4" rx="12.4" ry="12.4" fill="#000"/>
<ellipse cx="2921.2" cy="607.7" rx="12.4" ry="12.4" fill="#000"/>
<ellipse cx="2980" cy="519.7" rx="12.4" ry="12.4" fill="#000"/>
<ellipse cx="3040" cy="586" rx="12.4" ry="12.4" fill="#000"/>
<ellipse cx="3099.1" cy="544.6" rx="12.4" ry="12.4" fill="#000"/>
<ellipse cx="3158.1" cy="642.8" rx="12.4" ry="12.4" fill="#000"/>
<ellipse cx="3217.8" cy="533.1" rx="12.4" ry="12.4" fill="#000"/>
<rect x="2092" y="309" width="3" height="846.8" fill="#000"/>
<rect x="2092" y="1152.8" width="1188" height="3" fill="#000"/>
<rect x="3277" y="309.3" width="3" height="846.5" fill="#000"/>
<rect x="3585" y="309.3" width="3" height="846.9" fill="#000"/>
<rect x="2094" y="309.1" width="19.4" height="2.8" fill="#000"/>
<rect x="2094" y="476.6" width="19.4" height="2.8" fill="#000"/>
<rect x="2094" y="642.6" width="19.4" height="2.8" fill="#000"/>
<rect x="2094" y="811.9" width="19.4" height="2.8" fill="#000"/>
<rect x="2094" y="980" width="19.4" height="2.8" fill="#000"/>
<rect x="2094" y="1146.9" width="19.4" height="2.8" fill="#000"/>
<rect x="2094" y="391.3" width="9.8" height="2.8" fill="#000"/>
<rect x="2094" y="560.4" width="9.8" height="2.8" fill="#000"/>
<rect x="2094" y="728.1" width="9.8" height="2.8" fill="#000"/>
<rect x="2094" y="897.2" width="9.8" height="2.8" fill="#000"/>
<rect x="2094" y="1062.1" width="9.8" height="2.8" fill="#000"/>
<rect x="3257.8" y="309.3" width="20.2" height="2.8" fill="#000"/>
<rect x="3257.8" y="476.6" width="20.2" height="2.8" fill="#000"/>
<rect x="3257.8" y="645" width="20.2" height="2.8" fill="#000"/>
<rect x="3257.8" y="815.8" width="20.2" height="2.8" fill="#000"/>
<rect x="3257.8" y="984.1" width="20.2" height="2.8" fill="#000"/>
<rect x="3267" y="393.3" width="11" height="2.8" fill="#000"/>
<rect x="3267" y="561.2" width="11" height="2.8" fill="#000"/>
<rect x="3267" y="730.3" width="11" height="2.8" fill="#000"/>
<rect x="3267" y="898.8" width="11" height="2.8" fill="#000"/>
<rect x="3267" y="1065.9" width="11" height="2.8" fill="#000"/>
<rect x="3557.5" y="309.3" width="28.5" height="2.8" fill="#000"/>
<rect x="3557.5" y="449.1" width="28.5" height="2.8" fill="#000"/>
<rect x="3557.5" y="590.4" width="28.5" height="2.8" fill="#000"/>
<rect x="3557.5" y="731.8" width="28.5" height="2.8" fill="#000"/>
<rect x="3557.5" y="873" width="28.5" height="2.8" fill="#000"/>
<rect x="3557.5" y="1013.6" width="28.5" height="2.8" fill="#000"/>
<rect x="3557.5" y="1153.3" width="28.5" height="2.8" fill="#000"/>
<rect x="3571" y="379.6" width="15" height="2.8" fill="#000"/>
<rect x="3571" y="519.6" width="15" height="2.8" fill="#000"/>
<rect x="3571" y="659.9" width="15" height="2.8" fill="#000"/>
<rect x="3571" y="801.5" width="15" height="2.8" fill="#000"/>
<rect x="3571" y="942.7" width="15" height="2.8" fill="#000"/>
<rect x="3571" y="1082.2" width="15" height="2.8" fill="#000"/>
<rect x="2389.3" y="1134" width="2.8" height="20" fill="#000"/>
<rect x="2683.9" y="1134" width="2.8" height="20" fill="#000"/>
<rect x="2981.7" y="1134" width="2.8" height="20" fill="#000"/>
<rect x="2240.4" y="1144.3" width="2.8" height="9.7" fill="#000"/>
<rect x="2535.8" y="1144.3" width="2.8" height="9.7" fill="#000"/>
<rect x="2833.3" y="1144.3" width="2.8" height="9.7" fill="#000"/>
<rect x="3128.9" y="1144.3" width="2.8" height="9.7" fill="#000"/>
<rect x="2090.2" y="1170.8" width="6.8" height="1.5" fill="#444"/>
<rect x="2388.2" y="1170.8" width="12.3" height="1.5" fill="#444"/>
<rect x="2670" y="1170.8" width="5" height="1.5" fill="#444"/>
<rect x="2696.5" y="1170.8" width="6.5" height="1.5" fill="#444"/>
<rect x="2968.5" y="1170.8" width="3.5" height="1.5" fill="#444"/>
<rect x="2994.3" y="1170.8" width="12.4" height="1.5" fill="#444"/>
<rect x="3257.7" y="1170.8" width="9.8" height="1.5" fill="#444"/>
<rect x="2042.5" y="69.8" width="109.3" height="2.6" fill="#000"/>
<ellipse cx="2095.8" cy="71.9" rx="12.5" ry="12.5" fill="#fff" stroke="#000" stroke-width="3"/>
<rect x="2080.9" y="136.3" width="21.6" height="21.6" fill="#fff" stroke="#000" stroke-width="3"/>
<polygon points="2075.55,227.7 2103.05,227.7 2089.3,203.2" fill="none" stroke="#000" stroke-width="2.8" stroke-linejoin="miter"/>
<rect x="2586" y="69.8" width="107.9" height="2.6" fill="#000"/>
<ellipse cx="2638.7" cy="71.9" rx="14" ry="14" fill="#000"/>
<polygon points="2625.6,159.9 2657.9,159.9 2641.75,132.1" fill="#000"/>
<polygon points="2625.6,213.1 2643.1,196.3 2660.6,213.1 2643.1,229.9" fill="#000"/>
<polygon points="3165.9,77.9 3181,63.4 3196.1,77.9 3181,92.4" fill="none" stroke="#000" stroke-width="2.8" stroke-linejoin="miter"/>
<polygon points="3165.5,154.5 3192.5,154.5 3179,177.9" fill="none" stroke="#000" stroke-width="2.8" stroke-linejoin="miter"/>
<polygon points="3160.4,223.6 3191.8,223.6 3176.1,251.8" fill="#000"/>
</g>
<g id="labels">
<g transform="translate(409,205.5)"><text x="-73.75" y="0">1.5</text></g>
<g transform="translate(409,400.8)"><text x="-73.75" y="0">1.2</text></g>
<g transform="translate(409,596.4)"><text x="-73.75" y="0">0.9</text></g>
<g transform="translate(409,791.8)"><text x="-73.75" y="0">0.6</text></g>
<g transform="translate(409,987)"><text x="-73.75" y="0">0.3</text></g>
<g transform="translate(409,1182)"><text x="-29.5" y="0">0</text></g>
<g transform="translate(438,1229.5)"><text x="-14.75" y="0">0</text></g>
<g transform="translate(788,1229.5)"><text x="-14.75" y="0">5</text></g>
<g transform="translate(1136.5,1229.5)"><text x="-29.5" y="0">10</text></g>
<g transform="translate(1470.5,1229.5)"><text x="-29.5" y="0">15</text></g>
<g transform="translate(1820.5,1229.5)"><text x="-29.5" y="0">20</text></g>
<g transform="translate(503,197.5)"><text x="0" y="0">a</text></g>
<g transform="translate(1185,250) scale(0.9783,1.0000)"><text x="0" y="0">ΔNO</text><text x="123.76" y="12.3" font-size="42">2</text><text x="123.56" y="-21.5" font-size="41">−</text><text x="145.96" y="0">-N/ΔNH</text><text x="348.36" y="12.3" font-size="42">4</text><text x="346.76" y="-23.6" font-size="46">+</text><text x="370.56" y="0">-N=1.32</text></g>
<g transform="translate(1211,1098.6) scale(0.9783,1.0000)"><text x="0" y="0">ΔNO</text><text x="123.76" y="12.3" font-size="42">3</text><text x="123.56" y="-21.5" font-size="41">−</text><text x="145.96" y="0">-N/ΔNH</text><text x="348.36" y="12.3" font-size="42">4</text><text x="346.76" y="-23.6" font-size="46">+</text><text x="370.56" y="0">-N=0.26</text></g>
<g transform="translate(992.8,694.5) scale(0.9792,1.0000)"><text x="0" y="0">ΔNO</text><text x="123.76" y="12.3" font-size="42">2</text><text x="123.56" y="-21.5" font-size="41">−</text><text x="145.96" y="0">-N/ΔNH</text><text x="348.36" y="12.3" font-size="42">4</text><text x="346.76" y="-23.6" font-size="46">+</text><text x="370.56" y="0">-N</text></g>
<g transform="translate(992.8,803.1) scale(0.9792,1.0000)"><text x="0" y="0">ΔNO</text><text x="123.76" y="12.3" font-size="42">3</text><text x="123.56" y="-21.5" font-size="41">−</text><text x="145.96" y="0">-N/ΔNH</text><text x="348.36" y="12.3" font-size="42">4</text><text x="346.76" y="-23.6" font-size="46">+</text><text x="370.56" y="0">-N</text></g>
<g transform="translate(1014,1319.6) scale(0.9968,1.0000)"><text class="c" transform="translate(0,2.5) scale(1,0.94)">运行时间</text><text x="236" y="0">/d</text></g>
<g transform="translate(291.3,673.7) rotate(-90)"><text class="c" transform="translate(-147.5,4.5) scale(1,0.94)">化学计量数</text></g>
<g transform="translate(1968,102)"><text x="0" y="0">b</text></g>
<g transform="translate(2175,87) scale(0.9917,1.0000)"><text x="0" y="0">NO</text><text x="85.82" y="12.3" font-size="42">2</text><text x="85.62" y="-21.5" font-size="41">−</text><text x="108.02" y="0">-N</text><text x="170.27" y="0"> </text><text class="c" transform="translate(185.02,4.5) scale(1,0.94)">去除率</text></g>
<g transform="translate(2179,159.4) scale(0.9836,1.0000)"><text x="0" y="0">TN </text><text class="c" transform="translate(93.4,4.5) scale(1,0.94)">去除速率</text></g>
<g transform="translate(2179,233.2) scale(0.9752,1.0000)"><text class="c" transform="translate(0,4.5) scale(1,0.94)">出水</text><text x="118" y="0"> </text><text x="132.75" y="0">NH</text><text x="218.57" y="12.3" font-size="42">4</text><text x="216.97" y="-23.6" font-size="46">+</text><text x="240.77" y="0">-N</text></g>
<g transform="translate(2714,91) scale(0.9930,1.0000)"><text x="0" y="0">NH</text><text x="85.82" y="12.3" font-size="42">4</text><text x="84.22" y="-23.6" font-size="46">+</text><text x="108.02" y="0">-N</text><text x="170.27" y="0"> </text><text class="c" transform="translate(185.02,4.5) scale(1,0.94)">去除率</text></g>
<g transform="translate(2715.7,163.5) scale(0.9877,1.0000)"><text class="c" transform="translate(0,4.5) scale(1,0.94)">进水</text><text x="118" y="0"> </text><text x="132.75" y="0">NH</text><text x="218.57" y="12.3" font-size="42">4</text><text x="216.97" y="-23.6" font-size="46">+</text><text x="240.77" y="0">-N</text></g>
<g transform="translate(2715.7,237.8) scale(0.9834,1.0000)"><text class="c" transform="translate(0,4.5) scale(1,0.94)">进水</text><text x="118" y="0"> </text><text x="132.75" y="0">NO</text><text x="218.57" y="12.3" font-size="42">2</text><text x="218.37" y="-21.5" font-size="41">−</text><text x="240.77" y="0">-N</text></g>
<g transform="translate(3249.2,95.7) scale(0.9867,1.0000)"><text class="c" transform="translate(0,4.5) scale(1,0.94)">出水</text><text x="118" y="0"> </text><text x="132.75" y="0">NO</text><text x="218.57" y="12.3" font-size="42">2</text><text x="218.37" y="-21.5" font-size="41">−</text><text x="240.77" y="0">-N</text></g>
<g transform="translate(3249.2,169) scale(0.9867,1.0000)"><text class="c" transform="translate(0,4.5) scale(1,0.94)">出水</text><text x="118" y="0"> </text><text x="132.75" y="0">NO</text><text x="218.57" y="12.3" font-size="42">3</text><text x="218.37" y="-21.5" font-size="41">−</text><text x="240.77" y="0">-N</text></g>
<g transform="translate(3248.9,242.8) scale(0.9874,1.0000)"><text class="c" transform="translate(0,4.5) scale(1,0.94)">进水</text><text x="118" y="0"> </text><text x="132.75" y="0">NO</text><text x="218.57" y="12.3" font-size="42">3</text><text x="218.37" y="-21.5" font-size="41">−</text><text x="240.77" y="0">-N</text></g>
<g transform="translate(2079,335.5)"><text x="-88.5" y="0">250</text></g>
<g transform="translate(2079,501.5)"><text x="-88.5" y="0">200</text></g>
<g transform="translate(2079,667.5)"><text x="-88.5" y="0">150</text></g>
<g transform="translate(2079,833.6)"><text x="-88.5" y="0">100</text></g>
<g transform="translate(2079,999.6)"><text x="-59" y="0">50</text></g>
<g transform="translate(2079,1165.6)"><text x="-29.5" y="0">0</text></g>
<g transform="translate(2100,1229.5)"><text x="-14.75" y="0">0</text></g>
<g transform="translate(2391.6,1229.5)"><text x="-14.75" y="0">5</text></g>
<g transform="translate(2682.8,1229.5)"><text x="-29.5" y="0">10</text></g>
<g transform="translate(2987.5,1229.5)"><text x="-29.5" y="0">15</text></g>
<g transform="translate(3278.8,1229.5)"><text x="-29.5" y="0">20</text></g>
<g transform="translate(3289,329.3)"><text x="0" y="0">100%</text></g>
<g transform="translate(3290.5,495.3)"><text x="0" y="0">80%</text></g>
<g transform="translate(3290.5,661.3)"><text x="0" y="0">60%</text></g>
<g transform="translate(3290.5,827.3)"><text x="0" y="0">40%</text></g>
<g transform="translate(3290.5,993.3)"><text x="0" y="0">20%</text></g>
<g transform="translate(3290.5,1159.2)"><text x="0" y="0">0</text></g>
<g transform="translate(3606,330.7) scale(0.9803,1.0000)"><text x="0" y="0">3.0</text></g>
<g transform="translate(3606,471.8) scale(0.9803,1.0000)"><text x="0" y="0">2.5</text></g>
<g transform="translate(3606,613) scale(0.9803,1.0000)"><text x="0" y="0">2.0</text></g>
<g transform="translate(3606,754.6) scale(0.9803,1.0000)"><text x="0" y="0">1.5</text></g>
<g transform="translate(3606,895.6) scale(0.9803,1.0000)"><text x="0" y="0">1.0</text></g>
<g transform="translate(3606,1037) scale(0.9803,1.0000)"><text x="0" y="0">0.5</text></g>
<g transform="translate(3606,1178)"><text x="0" y="0">0</text></g>
<g transform="translate(2566.3,1319.6) scale(0.9968,1.0000)"><text class="c" transform="translate(0,2.5) scale(1,0.94)">运行时间</text><text x="236" y="0">/d</text></g>
<g transform="translate(1970.8,839) rotate(-90)"><text class="c" transform="translate(0,4.5) scale(1,0.94)">浓度</text><text transform="translate(130.6,0) scale(0.900,1)">/</text><text transform="translate(144.5,0) scale(1.200,1)">(</text><text transform="translate(167.8,0) scale(0.900,1)">mg·</text><text transform="translate(258.1,0) scale(0.900,1)">L</text><text transform="translate(293.6,-20.7) scale(0.900,1)" font-size="42">−1</text><text transform="translate(334.9,0) scale(1.200,1)">)</text></g>
<g transform="translate(3468.2,727.5) rotate(-90) scale(0.9661,1.0000)"><text class="c" transform="translate(-88.5,4.5) scale(1,0.94)">去除率</text></g>
<g transform="translate(3766.3,1001.5) rotate(-90)"><text class="c" x="0" y="4.5" font-size="56">去除速率</text><text transform="translate(241.4,0) scale(0.900,1)">/</text><text transform="translate(258.5,0) scale(1.200,1)">(</text><text transform="translate(282.6,0) scale(0.900,1)">kg·</text><text transform="translate(355,0) scale(0.900,1)">m</text><text transform="translate(397.4,-20.7) scale(0.900,1)" font-size="42">−3</text><text transform="translate(440,0) scale(0.900,1)">·d</text><text transform="translate(484.3,-20.7) scale(0.900,1)" font-size="42">−1</text><text transform="translate(527.6,0) scale(1.200,1)">)</text></g>
</g>
</svg>
</body>
</html>
